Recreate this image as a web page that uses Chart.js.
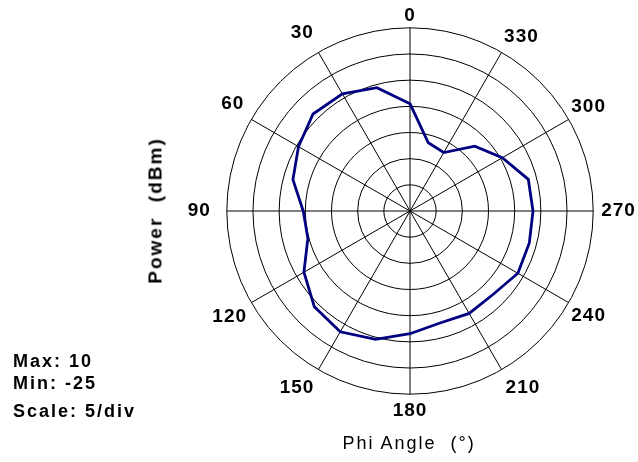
<!DOCTYPE html>
<html lang="en">
<head>
  <meta charset="UTF-8">
  <title>Phi Angle Polar Plot</title>
  <style>
    * {
      margin: 0;
      padding: 0;
      box-sizing: border-box;
    }

    body {
      width: 638px;
      height: 462px;
      overflow: hidden;
      position: relative;
      background: #fff;
      color: #000;
      font-family: "Liberation Sans", Arial, sans-serif;
    }

    #chart {
      position: absolute;
      left: 0;
      top: 0;
    }

    .txt {
      position: absolute;
      white-space: pre;
      letter-spacing: 2px;
      line-height: 18px;
      font-size: 18px;
    }

    .bold { font-weight: bold; }

    .y-title {
      left: 55px;
      top: 201px;
      width: 200px;
      height: 19px;
      line-height: 19px;
      font-size: 19px;
      text-align: center;
      transform: rotate(-90deg);
    }

    .x-title {
      left: 309px;
      top: 434px;
      width: 200px;
      text-align: center;
    }
  </style>
</head>
<body>
  <canvas id="chart" width="680" height="462"></canvas>

  <div class="txt bold y-title">Power  (dBm)</div>
  <div class="txt x-title">Phi Angle  (°)</div>
  <div class="txt bold" style="left: 13px; top: 352px;">Max: 10</div>
  <div class="txt bold" style="left: 13px; top: 374px;">Min: -25</div>
  <div class="txt bold" style="left: 13px; top: 402px;">Scale: 5/div</div>

  <script src="https://cdn.jsdelivr.net/npm/chart.js"></script>
  <script>
    // phi angles, counter-clockwise from the top (as in the plot)
    const phiAngles = [0, 15, 30, 45, 60, 75, 90, 105, 120, 135, 150, 165,
                       180, 195, 210, 225, 240, 255, 270, 285, 300, 315, 330, 345];
    const powerDbm = [-4.5, -0.6, 0.85, 1.2, -0.4, -1.85, -4.6, -4.8, -1.6, 0.85, 1.65, 0.4,
                      -1.55, -2.85, -2.4, -2.5, -1.2, -1.4, -1.5, -1.6, -4.65, -7.5, -12.1, -11.5];
    const labeledAngles = [0, 30, 60, 90, 120, 150, 180, 210, 240, 270, 300, 330];
    const scaleMin = -25;
    const scaleMax = 10;
    const scaleStep = 5;

    // radar charts go clockwise, the plot goes the other way round
    const cwOrder = phiAngles.map((_, i) => (phiAngles.length - i) % phiAngles.length);
    const labels = cwOrder.map(k => String(phiAngles[k]));
    const values = cwOrder.map(k => powerDbm[k]);

    // distance of each angle label from the outer ring
    const labelPad = {
      '0': 1, '30': 9, '60': 8, '90': 16, '120': 5, '150': 8,
      '180': 5, '210': 8, '240': 3, '270': 8, '300': 3, '330': 5
    };

    const tracking = {
      id: 'tracking',
      beforeUpdate(chart) { chart.ctx.letterSpacing = '1px'; },
      beforeDraw(chart) { chart.ctx.letterSpacing = '1px'; }
    };

    new Chart(document.getElementById('chart'), {
      type: 'radar',
      data: {
        labels: labels,
        datasets: [{
          data: values,
          borderColor: '#000080',
          borderWidth: 2.8,
          fill: false,
          tension: 0,
          pointRadius: 0
        }]
      },
      plugins: [tracking],
      options: {
        responsive: false,
        animation: false,
        layout: { padding: { left: 150, right: 10, top: 3, bottom: 37 } },
        plugins: {
          legend: { display: false },
          tooltip: { enabled: false }
        },
        scales: {
          r: {
            min: scaleMin,
            max: scaleMax,
            beginAtZero: false,
            ticks: { display: false, stepSize: scaleStep },
            grid: { circular: true, color: '#000', lineWidth: 1 },
            angleLines: {
              color: '#000',
              lineWidth: (ctx) => (ctx.label !== '' ? 1 : 0)
            },
            pointLabels: {
              color: '#000',
              font: { family: "'Liberation Sans', Arial, sans-serif", size: 19, weight: 'bold' },
              padding: (ctx) => labelPad[ctx.label] ?? 0,
              callback: (label) => (labeledAngles.includes(Number(label)) ? label : '')
            }
          }
        }
      }
    });
  </script>
</body>
</html>
